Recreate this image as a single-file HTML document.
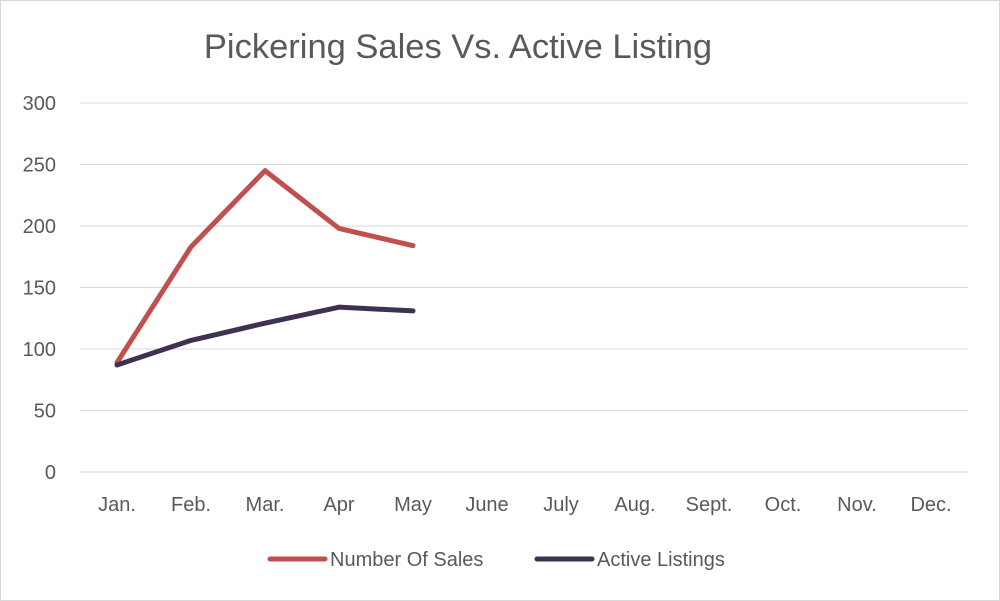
<!DOCTYPE html>
<html><head><meta charset="utf-8"><style>
html,body{margin:0;padding:0;background:#fff;}
svg{display:block;font-family:"Liberation Sans",sans-serif;}
</style></head><body>
<svg id="chart" width="1000" height="601" viewBox="0 0 1000 601">
<rect x="0.5" y="0.5" width="999" height="600" fill="#fff" stroke="#d9d9d9"/>
<text x="458" y="58" text-anchor="middle" font-size="34.5" fill="#595959">Pickering Sales Vs. Active Listing</text>
<g id="grid"></g><g id="series"></g>
<g>
<line x1="270" y1="559" x2="325" y2="559" stroke="#c0504d" stroke-width="5" stroke-linecap="round"/>
<text x="330" y="566" font-size="20" fill="#595959">Number Of Sales</text>
<line x1="537" y1="559" x2="592" y2="559" stroke="#3f3151" stroke-width="5" stroke-linecap="round"/>
<text x="597" y="566" font-size="20" fill="#595959">Active Listings</text>
</g>
</svg>
<script>
const categories=["Jan.","Feb.","Mar.","Apr","May","June","July","Aug.","Sept.","Oct.","Nov.","Dec."];
const salesValues=[89,183,245,198,184];
const listingValues=[87,107,121,134,131];
const yTicks=[0,50,100,150,200,250,300];
const NS="http://www.w3.org/2000/svg";
const x0=80,x1=968,yBase=472,yTop=103,yMax=300;
const step=(x1-x0)/categories.length;
const xs=i=>x0+step*(i+0.5);
const ys=v=>yBase-(v/yMax)*(yBase-yTop);
const grid=document.getElementById('grid'),ser=document.getElementById('series');
function mk(t,a,p){const e=document.createElementNS(NS,t);for(const k in a)e.setAttribute(k,a[k]);p.appendChild(e);return e;}
yTicks.forEach(v=>{
const l=mk('line',{x1:x0,x2:x1,y1:ys(v),y2:ys(v),stroke:'#d9d9d9','stroke-width':1},grid);


const t=mk('text',{x:56,y:ys(v)+7,'text-anchor':'end','font-size':20,fill:'#595959'},grid);
t.textContent=v;


});
categories.forEach((c,i)=>{
const t=mk('text',{x:xs(i),y:511,'text-anchor':'middle','font-size':20,fill:'#595959'},grid);
t.textContent=c;


});
function line(vals,color,name){
const p=mk('polyline',{points:vals.map((v,i)=>xs(i)+','+ys(v)).join(' '),fill:'none',stroke:color,'stroke-width':5,'stroke-linejoin':'round','stroke-linecap':'round'},ser);


}
line(salesValues,'#c0504d','sales-line');
line(listingValues,'#3f3151','listings-line');
</script>
</body></html>
